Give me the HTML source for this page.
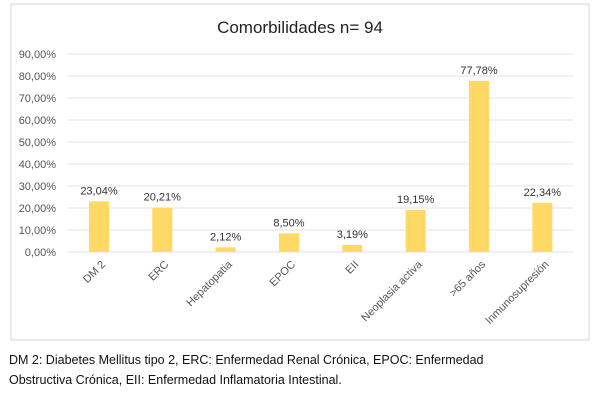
<!DOCTYPE html>
<html><head><meta charset="utf-8"><style>
body{margin:0;width:600px;height:402px;background:#fff;font-family:"Liberation Sans",sans-serif;overflow:hidden}
#cap{position:absolute;left:9px;top:350px;font-size:12.5px;line-height:20px;color:#111}
</style></head><body>
<svg width="600" height="402" style="position:absolute;left:0;top:0">
<rect x="11" y="4" width="578" height="336" fill="#fff" stroke="#d9d9d9"/>
<text x="300" y="33" text-anchor="middle" font-size="17" fill="#222">Comorbilidades n= 94</text>
<g id="g"></g>
</svg>
<div id="cap">DM 2: Diabetes Mellitus tipo 2, ERC: Enfermedad Renal Crónica, EPOC: Enfermedad<br>Obstructiva Crónica, EII: Enfermedad Inflamatoria Intestinal.</div>
<script>
const categories=["DM 2","ERC","Hepatopatia","EPOC","EII","Neoplasia activa",">65 años","Inmunosupresión"];
const values=[23.04,20.21,2.12,8.50,3.19,19.15,77.78,22.34];
const ticks=[0,10,20,30,40,50,60,70,80,90];
const L=67.3,R=574,T=54,B=252,max=90;
const y=v=>B-(v/max)*(B-T);
const step=(R-L)/categories.length;
const x=i=>L+step*(i+0.5);
const g=document.getElementById('g');const NS="http://www.w3.org/2000/svg";
function mk(t,a){const e=document.createElementNS(NS,t);for(const k in a)e.setAttribute(k,a[k]);g.appendChild(e);return e;}
const fmt=v=>v.toFixed(2).replace('.',',')+'%';
ticks.forEach(t=>{
 const l=mk('line',{x1:L,x2:R,y1:y(t),y2:y(t),stroke:'#e3e3e3','stroke-width':1});
 
 
 const tx=mk('text',{x:56,y:y(t)+4,'text-anchor':'end','font-size':11,fill:'#555'});tx.textContent=fmt(t);
 
 
});
values.forEach((v,i)=>{
 const b=mk('rect',{x:x(i)-10,y:y(v),width:20,height:B-y(v),fill:'#ffd966'});
 
 
 const t=mk('text',{x:x(i),y:y(v)-7,'text-anchor':'middle','font-size':11,fill:'#333'});t.textContent=fmt(v);
 
 
 const c=mk('text',{x:x(i)+7,y:265,'text-anchor':'end','font-size':11,fill:'#555',transform:`rotate(-45 ${x(i)+7} 265)`});c.textContent=categories[i];
 
 
});
</script>
</body></html>
